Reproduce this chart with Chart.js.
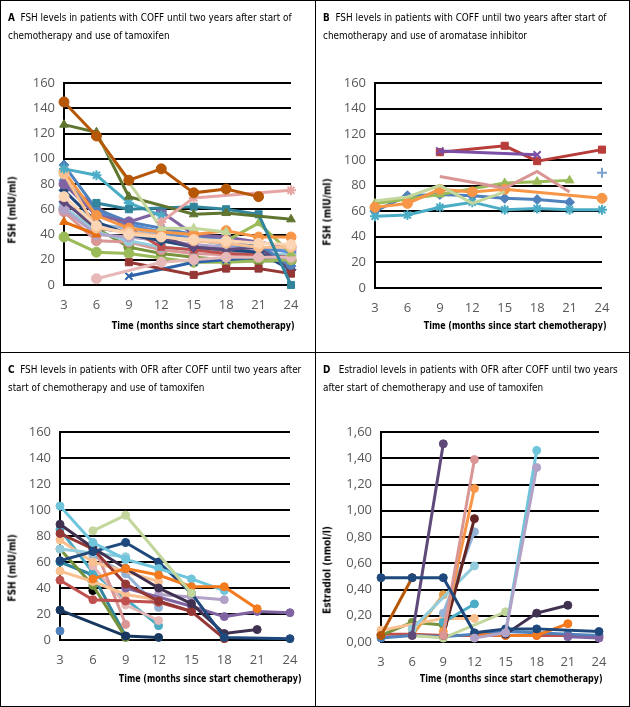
<!DOCTYPE html>
<html>
<head>
<meta charset="utf-8">
<script src="https://cdn.jsdelivr.net/npm/chart.js@4.4.1/dist/chart.umd.min.js"></script>
<style>
  body { margin: 0; background: #fff; }
  #page { position: relative; width: 630px; height: 707px; overflow: hidden; }
  .panel { position: absolute; box-sizing: border-box; border: 1px solid #000; }
  .panel canvas { position: absolute; left: 0; top: 0; }
  .ttl { position: absolute; left: 7px; top: 7px; font: 10.5px 'DejaVu Sans Condensed', sans-serif; line-height: 18px; white-space: pre; color: #000; transform: scaleX(0.94); transform-origin: left top; }
  .ytl { position: absolute; font: bold 10px 'DejaVu Sans Condensed', sans-serif; transform: translate(-50%, -50%) rotate(-90deg); white-space: nowrap; }
  .xtl { position: absolute; font: bold 10.5px 'DejaVu Sans Condensed', sans-serif; transform: translateY(-50%) scaleX(0.84); transform-origin: right center; white-space: nowrap; text-align: right; }
</style>
</head>
<body>
<div id="page">
  <div class="panel" style="left:0;top:0;width:316px;height:353px">
    <canvas id="cA" width="314" height="351"></canvas>
    <div class="ttl"><b>A</b>  FSH levels in patients with COFF until two years after start of
chemotherapy and use of tamoxifen</div>
    <div class="ytl" style="left:11px;top:209px">FSH (mIU/ml)</div>
    <div class="xtl" style="right:20px;top:324px">Time (months since start chemotherapy)</div>
  </div>
  <div class="panel" style="left:315px;top:0;width:315px;height:353px">
    <canvas id="cB" width="313" height="351"></canvas>
    <div class="ttl"><b>B</b>  FSH levels in patients with COFF until two years after start of
chemotherapy and use of aromatase inhibitor</div>
    <div class="ytl" style="left:11px;top:211px">FSH (mIU/ml)</div>
    <div class="xtl" style="right:22px;top:324px">Time (months since start chemotherapy)</div>
  </div>
  <div class="panel" style="left:0;top:352px;width:316px;height:355px">
    <canvas id="cC" width="314" height="353"></canvas>
    <div class="ttl"><b>C</b>  FSH levels in patients with OFR after COFF until two years after
start of chemotherapy and use of tamoxifen</div>
    <div class="ytl" style="left:11px;top:215px">FSH (mIU/ml)</div>
    <div class="xtl" style="right:13px;top:325px">Time (months since start chemotherapy)</div>
  </div>
  <div class="panel" style="left:315px;top:352px;width:315px;height:355px">
    <canvas id="cD" width="313" height="353"></canvas>
    <div class="ttl"><b>D</b>   Estradiol levels in patients with OFR after COFF until two years
after start of chemotherapy and use of tamoxifen</div>
    <div class="ytl" style="left:11px;top:217px">Estradiol (nmol/l)</div>
    <div class="xtl" style="right:26px;top:325px">Time (months since start chemotherapy)</div>
  </div>
</div>
<script>
const months = ['3', '6', '9', '12', '15', '18', '21', '24']

// A: FSH, COFF, tamoxifen
const valuesA = [
  [60, 45, 30, 25, 22, 20, 19, 19],
  [58, 35, 34, 28, 25, 24, 22, 20],
  [62, 42, 35, 30, 28, 27, 25, 24],
  [65, 48, 45, 40, 38, 34, 30, 28],
  [60, 40, 38, 35, 32, 30, 28, 27],
  [80, 62, 45, 30, 28, 25, 24, 22],
  [75, 50, 40, 35, 30, 28, 26, 12],
  [66, 45, 42, 38, 30, 28, 30, 12],
  [83, 58, 48, 42, 36, 32, 30, 26],
  [95, 60, 50, 45, 40, 35, 32, 15],
  [80, 55, 50, 58, 40, 38, null, 30],
  [50, 40, null, null, null, null, null, null],
  [38, 26, 25, null, 18, 18, null, 20],
  [null, null, 7, null, 18, 20, 22, 22],
  [null, null, 18, null, 8, 13, 13, 9],
  [null, 5, null, 18, 20, 22, 22, 22],
  [null, null, null, null, null, 35, 49, 25],
  [90, 55, 45, 42, 40, 43, 38, 38],
  [88, 45, 42, null, 35, 33, 30, 30],
  [70, 47, 40, 38, 36, 35, 33, 32],
  [92, 87, 65, 55, null, null, null, null],
  [null, 65, 60, null, 62, 60, 56, 0],
  [127, 121, 70, null, 56, 57, null, 52],
  [null, 118, null, 45, 45, 42, null, null],
  [null, null, null, 50, 69, null, null, 75],
  [145, 118, 83, 92, 73, 76, 70, null]
]
const colorsA = ['#77933C', '#D99694', '#93CDDD', '#95B3D7', '#B3A2C7', '#C0504D', '#1F497D', '#5F497A',
  '#558ED5', '#4F81BD', '#8064A2', '#E46C0A', '#9BBB59', '#2E62A8', '#953735', '#E6B9B8', '#9BBB59',
  '#F79646', '#FAC090', '#FCD5B5', '#4BACC6', '#31859C', '#5F7530', '#C3D69B', '#E6A5A3', '#B65708']
const markersA = ['circle', 'circle', 'circle', 'rectRot', 'circle', 'rect', 'rectRot', 'rectRot',
  'rectRot', 'rectRot', 'circle', 'triangle', 'circle', 'crossRot', 'rect', 'circle', 'triangle',
  'circle', 'circle', 'circle', 'star', 'rect', 'triangle', 'triangle', 'star', 'circle']

// B: FSH, COFF, aromatase inhibitor
const valuesB = [
  [60, 72, 73, 72, 70, 69, 67, null],
  [null, null, 106, null, 111, 99, null, 108],
  [66, null, 73, null, 82, 83, 84, null],
  [null, null, 107, null, null, 104, null, null],
  [56, 57, 63, 67, 61, 62, 61, 61],
  [63, 66, 77, 75, 77, null, null, 70],
  [null, null, null, null, null, null, null, 90],
  [null, null, 87, null, 78, 91, 75, null],
  [68, 71, 80, 66, 75, null, null, null]
]
const colorsB = ['#4F81BD', '#B83C39', '#9BBB59', '#7C4FA6', '#4BACC6', '#F79646', '#7F9FCF', '#D99694', '#C3D69B']
const markersB = ['rectRot', 'rect', 'triangle', 'crossRot', 'star', 'circle', 'cross', false, false]

// C: FSH, OFR after COFF, tamoxifen
const valuesC = [
  [7, null, null, null, null, null, null, null],
  [null, 38, null, null, null, null, null, null],
  [60, 50, 3, null, null, null, null, null],
  [70, 42, 2, null, null, null, null, null],
  [85, 52, null, 11, null, null, null, null],
  [null, 65, 51, 25, null, null, null, null],
  [null, 57, 27, 15, null, null, null, null],
  [null, 75, 12, null, null, null, null, null],
  [53, 45, 35, 31, null, null, null, null],
  [77, 60, null, 45, null, null, null, null],
  [46, 31, 30, 29, 22, null, null, null],
  [23, null, 3, 2, null, null, null, null],
  [70, 67, 64, null, null, null, null, null],
  [null, null, null, 35, 33, 31, null, null],
  [null, null, 40, null, 26, 18, 22, 21],
  [82, 70, 43, 30, 22, 1, null, null],
  [89, 71, 55, 40, 28, 5, 8, null],
  [61, 68, 75, 60, 36, 2, null, 1],
  [103, 75, 62, 55, 47, 38, null, null],
  [null, 47, 55, 50, 41, 41, 24, null],
  [null, 84, 96, null, 36, null, null, null]
]
const colorsC = ['#4F81BD', '#000000', '#31859C', '#77933C', '#4BACC6', '#95B3D7', '#E6B9B8', '#D99694',
  '#FAC090', '#FAC090', '#C0504D', '#17375E', '#93CDDD', '#B3A2C7', '#8064A2', '#953735', '#403151',
  '#1F497D', '#6FC5DB', '#F37A1F', '#C3D69B']

// D: estradiol, OFR after COFF, tamoxifen
const valuesD = [
  [0.06, 0.06, 0.05, 0.05, 0.05, 0.05, 0.05, 0.04],
  [0.03, 0.05, 0.04, 0.06, 0.08, 0.07, 0.06, 0.05],
  [0.05, 0.15, 0.13, null, null, null, null, null],
  [null, 0.05, 0.36, null, null, null, null, null],
  [0.09, null, 0.18, 0.18, null, null, null, null],
  [null, 0.05, 0.03, null, 0.23, null, null, null],
  [null, null, 0.15, 0.29, null, null, null, null],
  [null, 0.10, null, 0.58, null, null, null, null],
  [null, null, 0.22, 0.84, null, null, null, null],
  [null, null, 0.05, 0.94, null, null, null, null],
  [null, null, 0.08, 1.17, null, null, null, null],
  [null, null, 0.05, 1.39, null, null, null, null],
  [0.05, 0.49, null, null, null, null, null, null],
  [null, 0.05, 1.51, null, null, null, null, null],
  [null, null, null, 0.06, 0.05, 0.05, 0.14, null],
  [null, null, null, null, null, null, 0.04, 0.03],
  [null, null, null, null, 0.06, 0.22, 0.28, null],
  [0.49, 0.49, 0.49, 0.07, 0.10, 0.10, null, 0.08],
  [null, null, null, null, 0.07, 1.46, null, null],
  [null, null, null, 0.03, 0.07, 1.33, null, null]
]
const colorsD = ['#C0504D', '#4F81BD', '#77933C', '#E4A04A', '#FAC090', '#C3D69B', '#4BACC6', '#93CDDD',
  '#95B3D7', '#632523', '#F79646', '#D99694', '#B65708', '#5F497A', '#F37A1F', '#8064A2', '#403151',
  '#1F497D', '#6FC5DB', '#B3A2C7']

const fsh = v => v
const estradiol = v => v.toFixed(2).replace('.', ',')

function maakPainel(id, values, colors, markers, box) {
  new Chart(document.getElementById(id), {
    type: 'line',
    data: {
      labels: months,
      datasets: values.map((v, i) => {
        const marker = markers ? markers[i] : 'circle'
        const linhaSimples = ['crossRot', 'star', 'cross'].includes(marker)
        return {
          data: v,
          order: -i,
          borderColor: colors[i],
          backgroundColor: colors[i],
          pointBackgroundColor: colors[i],
          pointBorderColor: colors[i],
          pointStyle: marker || 'circle',
          pointRadius: marker === false ? 0 : box.radius,
          pointBorderWidth: linhaSimples ? 2 : 1,
          borderWidth: 3,
          spanGaps: true,
          clip: false,
          tension: 0
        }
      })
    },
    options: {
      responsive: false,
      animation: false,
      layout: { padding: { left: 0, top: box.t, right: box.w - box.r, bottom: box.h - box.b - 30 } },
      plugins: { legend: { display: false }, tooltip: { enabled: false } },
      scales: {
        x: {
          grid: { display: false },
          border: { display: false },
          ticks: { color: '#595959', font: { family: 'Open Sans', size: 13 }, padding: 4, maxRotation: 0, autoSkip: false },
          afterFit: (s) => { s.height = 30 }
        },
        y: {
          min: 0,
          max: box.max,
          ticks: { stepSize: box.step, padding: 9, color: '#595959', font: { family: 'Open Sans', size: 13 }, callback: box.fmt },
          grid: { color: '#000', lineWidth: 2, drawTicks: false },
          border: { color: '#000', width: 2 },
          afterFit: (s) => { s.width = box.l }
        }
      }
    }
  })
}

maakPainel('cA', valuesA, colorsA, markersA, { l: 63, t: 82, r: 290, b: 284, w: 314, h: 351, max: 160, step: 20, fmt: fsh, radius: 5 })
maakPainel('cB', valuesB, colorsB, markersB, { l: 59, t: 82, r: 286, b: 287, w: 313, h: 351, max: 160, step: 20, fmt: fsh, radius: 5 })
maakPainel('cC', valuesC, colorsC, null, { l: 59, t: 79, r: 289, b: 287, w: 314, h: 353, max: 160, step: 20, fmt: fsh, radius: 4 })
maakPainel('cD', valuesD, colorsD, null, { l: 65, t: 79, r: 283, b: 289, w: 313, h: 353, max: 1.6, step: 0.2, fmt: estradiol, radius: 4 })
</script>
</body>
</html>
